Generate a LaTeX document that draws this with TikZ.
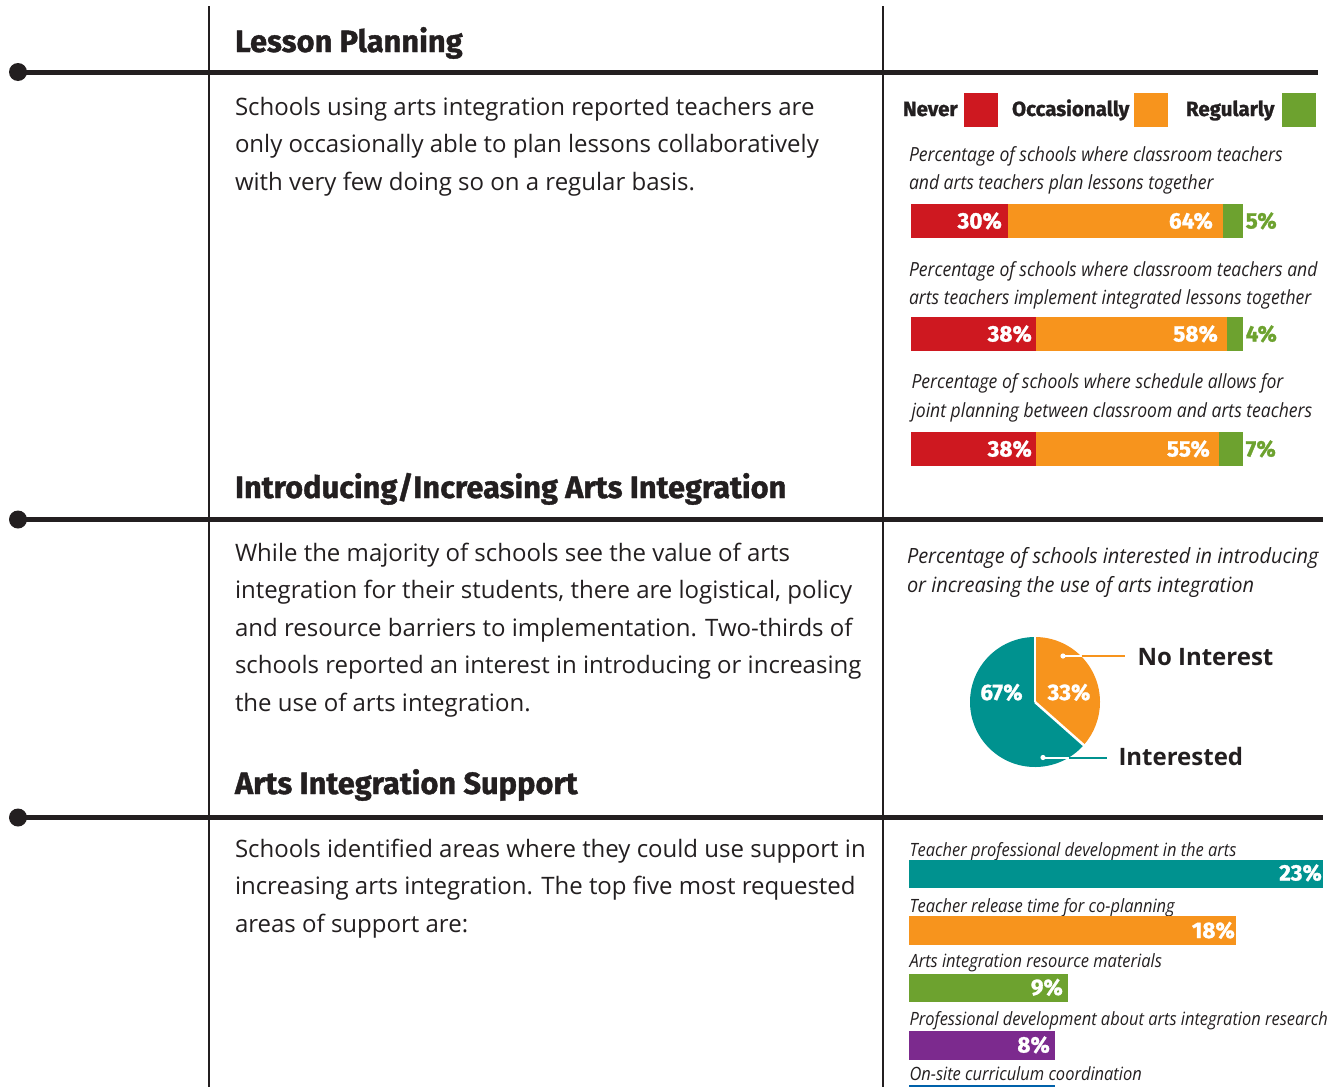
\documentclass[tikz,border=0pt]{standalone}
\usepackage{fontspec}
\setmainfont{Open Sans}
\newfontfamily\headf[FakeBold=1.2]{Fira Sans Bold}
\newfontfamily\capf[FakeStretch=0.9]{Open Sans}
\newfontfamily\pcapf[FakeStretch=0.95]{Open Sans}
\definecolor{ink}{HTML}{231F20}
\definecolor{cred}{HTML}{CE1820}
\definecolor{corange}{HTML}{F7941D}
\definecolor{cgreen}{HTML}{6DA22F}
\definecolor{cteal}{HTML}{00928F}
\definecolor{cpurple}{HTML}{7C2A8E}
\definecolor{cblue}{HTML}{0061AA}
\tikzset{
  txt/.style={anchor=base west, inner sep=0pt, outer sep=0pt, text=ink},
  head/.style={txt, font=\headf\fontsize{30.8}{30.8}\selectfont},
  body/.style={txt, font=\fontsize{24}{24}\selectfont},
  capt/.style={txt, font=\capf\itshape\fontsize{19.5}{19.5}\selectfont},
  pcapt/.style={txt, font=\pcapf\itshape\fontsize{21}{21}\selectfont},
  scapt/.style={txt, font=\capf\itshape\fontsize{18.3}{18.3}\selectfont},
  pctin/.style={anchor=base east, inner sep=0pt, text=white, font=\headf\fontsize{22.5}{22.5}\selectfont},
  pctout/.style={anchor=base west, inner sep=0pt, text=cgreen, font=\headf\fontsize{22.5}{22.5}\selectfont},
  pctpie/.style={anchor=base, inner sep=0pt, text=white, font=\headf\fontsize{22.5}{22.5}\selectfont},
  leg/.style={txt, font=\headf\fontsize{20.5}{20.5}\selectfont},
  pielbl/.style={txt, font=\bfseries\fontsize{24}{24}\selectfont},
  rulel/.style={draw=ink, line width=5pt},
  vline/.style={draw=ink, line width=1.4pt},
}
\begin{document}
\begin{tikzpicture}[x=1pt,y=-1pt]
\useasboundingbox (0,0) rectangle (1332,1087);
% vertical dividers
\coordinate (v1t) at (209,6); \coordinate (v1b) at (209,1087);
\coordinate (v2t) at (883,6); \coordinate (v2b) at (883,1087);
\draw[vline] (v1t) -- (v1b);
\draw[vline] (v2t) -- (v2b);
% horizontal rules with dots
\coordinate (r1a) at (18,72);  \coordinate (r1b) at (1318,72);
\coordinate (r2a) at (18,519.5); \coordinate (r2b) at (1323,519.5);
\coordinate (r3a) at (18,817.5); \coordinate (r3b) at (1323,817.5);
\draw[rulel] (r1a) -- (r1b); \fill[ink] (r1a) circle (9);
\draw[rulel] (r2a) -- (r2b); \fill[ink] (r2a) circle (9);
\draw[rulel] (r3a) -- (r3b); \fill[ink] (r3a) circle (9);
% headings
\node[head] (h1) at (235,52) {Lesson Planning};
\node[head] (h2) at (235,498) {Introducing/Increasing Arts Integration};
\node[head] (h3) at (235,794) {Arts Integration Support};
% paragraphs
\node[body] (p1a) at (235,115) {Schools using arts integration reported teachers are};
\node[body] (p1b) at (235,152.5) {only occasionally able to plan lessons collaboratively};
\node[body] (p1c) at (235,190) {with very few doing so on a regular basis.};
\node[body] (p2a) at (235,561) {While the majority of schools see the value of arts};
\node[body] (p2b) at (235,598.5) {integration for their students, there are logistical, policy};
\node[body] (p2c) at (235,636) {and resource barriers to implementation. Two-thirds of};
\node[body] (p2d) at (235,673.5) {schools reported an interest in introducing or increasing};
\node[body] (p2e) at (235,711) {the use of arts integration.};
\node[body] (p3a) at (235,857) {Schools identified areas where they could use support in};
\node[body] (p3b) at (235,894.5) {increasing arts integration. The top five most requested};
\node[body] (p3c) at (235,932) {areas of support are:};
% legend
\node[leg] (lg1) at (903,116) {Never};
\fill[cred] (964,92.5) rectangle (997.5,126.5);
\node[leg] (lg2) at (1012,116) {Occasionally};
\fill[corange] (1134,92.5) rectangle (1167.5,126.5);
\node[leg] (lg3) at (1186,116) {Regularly};
\fill[cgreen] (1282,92.5) rectangle (1315.5,126.5);
% stacked bar 1
\node[capt] (c1a) at (909,161) {Percentage of schools where classroom teachers};
\node[capt] (c1b) at (909,189.5) {and arts teachers plan lessons together};
\fill[cred] (911,203.5) rectangle (1008,237.5);
\fill[corange] (1008,203.5) rectangle (1223,237.5);
\fill[cgreen] (1223,203.5) rectangle (1243,237.5);
\node[pctin] (b1r) at (1002,228.5) {30\%};
\node[pctin] (b1o) at (1213,228.5) {64\%};
\node[pctout] (b1g) at (1245.5,228.5) {5\%};
% stacked bar 2
\node[capt] (c2a) at (909,276) {Percentage of schools where classroom teachers and};
\node[capt] (c2b) at (909,304) {arts teachers implement integrated lessons together};
\fill[cred] (911,316.5) rectangle (1036,350.5);
\fill[corange] (1036,316.5) rectangle (1227,350.5);
\fill[cgreen] (1227,316.5) rectangle (1243,350.5);
\node[pctin] (b2r) at (1032,341.5) {38\%};
\node[pctin] (b2o) at (1218,341.5) {58\%};
\node[pctout] (b2g) at (1245.5,341.5) {4\%};
% stacked bar 3
\node[capt] (c3a) at (911.5,388.5) {Percentage of schools where schedule allows for};
\node[capt] (c3b) at (911.5,417) {joint planning between classroom and arts teachers};
\fill[cred] (911,431.5) rectangle (1036,465.5);
\fill[corange] (1036,431.5) rectangle (1219,465.5);
\fill[cgreen] (1219,431.5) rectangle (1243,465.5);
\node[pctin] (b3r) at (1032,456.5) {38\%};
\node[pctin] (b3o) at (1210,456.5) {55\%};
\node[pctout] (b3g) at (1245.5,456.5) {7\%};
% pie
\node[pcapt] (pc1) at (907,563.5) {Percentage of schools interested in introducing};
\node[pcapt] (pc2) at (907,592) {or increasing the use of arts integration};
\coordinate (pc) at (1035,702);
\fill[corange] (pc) -- ++(-90:65) arc[start angle=-90, end angle=41.5, radius=65] -- cycle;
\fill[cteal] (pc) -- ++(41.5:65) arc[start angle=41.5, end angle=270, radius=65] -- cycle;
\draw[white, line width=2.5pt] (pc) -- ++(-90:66);
\draw[white, line width=2.5pt] (pc) -- ++(41.5:66);
\node[pctpie] (p67) at (1001.5,700) {67\%};
\node[pctpie] (p33) at (1069,700) {33\%};
% leaders
\coordinate (nd) at (1063,656); \coordinate (ne) at (1081.5,656); \coordinate (nx) at (1125,656);
\draw[white, line width=2pt] (nd) -- (ne);
\draw[corange, line width=2pt] (ne) -- (nx);
\fill[white] (nd) circle (2.6);
\coordinate (id) at (1043,757.5); \coordinate (ie) at (1068.5,757.5); \coordinate (ix) at (1107,757.5);
\draw[white, line width=2pt] (id) -- (ie);
\draw[cteal, line width=2pt] (ie) -- (ix);
\fill[white] (id) circle (2.6);
\node[pielbl] (lno) at (1137.5,665.5) {No Interest};
\node[pielbl] (lin) at (1118.5,765) {Interested};
% support bars
\node[scapt] (s1) at (909.5,856.5) {Teacher professional development in the arts};
\fill[cteal] (909,859.5) rectangle (1323,887.5);
\node[pctin] (s1p) at (1322,880.5) {23\%};
\node[scapt] (s2) at (909.5,912.5) {Teacher release time for co-planning};
\fill[corange] (909,916) rectangle (1236,945);
\node[pctin] (s2p) at (1235,938) {18\%};
\node[scapt] (s3) at (909.5,967.5) {Arts integration resource materials};
\fill[cgreen] (909,973.5) rectangle (1068,1001.5);
\node[pctin] (s3p) at (1063,995) {9\%};
\node[scapt] (s4) at (909.5,1025) {Professional development about arts integration research};
\fill[cpurple] (909,1031) rectangle (1055,1059.5);
\node[pctin] (s4p) at (1050,1052.5) {8\%};
\node[scapt] (s5) at (909.5,1080) {On-site curriculum coordination};
\fill[cblue] (909,1085) rectangle (1055,1087);
\end{tikzpicture}
\end{document}
